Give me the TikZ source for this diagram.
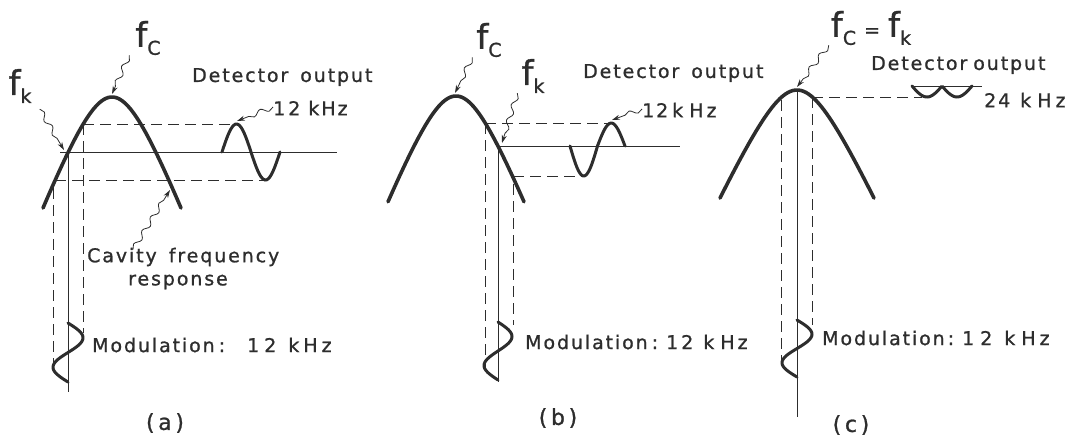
\documentclass[tikz,border=0pt]{standalone}
\usepackage{fontspec}
\setmainfont{DejaVu Sans}[LetterSpace=10, FakeBold=1]
\usetikzlibrary{positioning, arrows.meta, decorations.pathmorphing}

\definecolor{ink}{RGB}{45,45,45}
\newcommand{\fsub}[1]{{\fontsize{34}{34}\selectfont f}\raisebox{-8pt}{#1}}

\tikzset{
  curve/.style={draw=ink, line width=3.6pt, line cap=round},
  wave/.style={draw=ink, line width=3pt, line cap=round},
  guide/.style={draw=ink, line width=0.9pt},
  dashline/.style={draw=ink, line width=0.9pt, dash pattern=on 11pt off 6pt},
  squig/.style={draw=ink, line width=0.8pt, -{Stealth[length=8pt,width=5pt]},
    decorate, decoration={snake, amplitude=2.5pt, segment length=16pt, post length=8pt}},
  lbl/.style={text=ink, font=\fontsize{19}{22}\selectfont, inner sep=0pt, anchor=west},
  fl/.style={text=ink, font=\fontsize{19}{22}\selectfont, inner sep=0pt},
  panel/.style={text=ink, font=\fontsize{22}{26}\selectfont, inner sep=0pt}
}

\begin{document}
\begin{tikzpicture}[x=1pt, y=-1pt]
    \useasboundingbox (0,0) rectangle (1074,440);

    % (a)
    \draw[curve] plot[domain=-69:69, samples=60] ({112+\x},{97+2.62*(sqrt(\x*\x+1225)-35)});
    \coordinate (pka) at (112,94);
    \coordinate (ka) at (64,150);
    \coordinate (cra) at (170,190);
    \coordinate (wpa) at (237,121);
    \draw[guide] (60,152) -- (337,152);
    \draw[guide] (68,152) -- (68,392);
    \draw[dashline] (83,124) -- (236,124);
    \draw[dashline] (55,180) -- (265,180);
    \draw[dashline] (83,124) -- (83,333);
    \draw[dashline] (53,188) -- (53,372);
    \draw[wave] plot[domain=0:360, samples=40] ({222+\x/360*58},{152-28*sin(\x)});
    \draw[wave] plot[domain=0:360, samples=40] ({68+15*sin(\x)},{323+\x/360*59});

    \node[fl] (fca) at (148,38) {\fsub{C}};
    \node[fl] (fka) at (20,86) {\fsub{k}};
    \node[lbl] (deta) at (192,77) {Detector\hspace{12pt}output};
    \node[lbl] (freqa) at (273,108) {1\hspace{3pt}2\hspace{8pt}k\hspace{2pt}H\hspace{2pt}z};
    \node[lbl] (cava) at (87,257) {Cavity\hspace{12pt}frequency};
    \node[lbl] (respa) at (128,282) {response};
    \node[lbl] (moda) at (92,345) {Modulation\hspace{4pt}:\hspace{22pt}1\hspace{5pt}2\hspace{12pt}k\hspace{4pt}H\hspace{4pt}z};
    \node[panel] (capa) at (165,423) {(\,a\,)};

    \draw[squig] ([xshift=-6]fca.south west) -- (pka);
    \draw[squig] ([shift={(8,6)}]fka.south east) -- (ka);
    \draw[squig] ([xshift=46,yshift=-2]cava.north west) -- (cra);
    \draw[squig] ([yshift=1]freqa.west) -- (wpa);

    % (b)
    \draw[curve] plot[domain=-68:68, samples=60] ({456+\x},{96+2.55*(sqrt(\x*\x+1225)-35)});
    \coordinate (pkb) at (455,93);
    \coordinate (kb) at (502,143);
    \coordinate (wpb) at (612,120);
    \draw[guide] (498,146) -- (680,146);
    \draw[guide] (498,146) -- (498,382);
    \draw[dashline] (485,123) -- (611,123);
    \draw[dashline] (513,176) -- (584,176);
    \draw[dashline] (485,123) -- (485,370);
    \draw[dashline] (513,184) -- (513,325);
    \draw[wave] plot[domain=0:180, samples=20] ({570+\x/360*55},{146+30*sin(\x)})
      -- plot[domain=180:360, samples=20] ({570+\x/360*55},{146+23*sin(\x)});
    \draw[wave] plot[domain=0:360, samples=40] ({498+14*sin(\x)},{322+\x/360*58});

    \node[fl] (fcb) at (489,40) {\fsub{C}};
    \node[fl] (fkb) at (533,76) {\fsub{k}};
    \node[lbl] (detb) at (583,73) {Detector\hspace{12pt}output};
    \node[lbl] (freqb) at (642,110) {12\hspace{4pt}k\hspace{6pt}H\hspace{3pt}z};
    \node[lbl] (modb) at (525,342) {Modulation\hspace{4pt}:\hspace{8pt}1\hspace{3pt}2\hspace{10pt}k\hspace{6pt}H\hspace{3pt}z};
    \node[panel] (capb) at (558,418) {(\,b\,)};

    \draw[squig] ([xshift=-4]fcb.south west) -- (pkb);
    \draw[squig] ([xshift=-4]fkb.south west) -- (kb);
    \draw[squig] ([yshift=1]freqb.west) -- (wpb);

    % (c)
    \draw[curve] plot[domain=-77:77, samples=60] ({797+\x},{90+2.18*(sqrt(\x*\x+1225)-35)});
    \coordinate (pkc) at (797,87);
    \draw[guide] (797,90) -- (797,417);
    \draw[dashline] (812,97) -- (922,97);
    \draw[dashline] (812,97) -- (812,325);
    \draw[dashline] (781,100) -- (781,370);
    \draw[guide] (912,86) -- (982,86);
    \draw[wave] plot[domain=0:360, samples=40] ({912+\x/360*60},{86+11*abs(sin(\x))});
    \draw[wave] plot[domain=0:360, samples=40] ({797+15*sin(\x)},{320+\x/360*57});

    \node[fl] (fcc) at (871,28) {\fsub{C}\hspace{8pt}=\hspace{8pt}\fsub{k}};
    \node[lbl] (detc) at (871,65) {Detector\hspace{6pt}output};
    \node[lbl] (freqc) at (984,100) {24\hspace{10pt}k\hspace{6pt}H\hspace{4pt}z};
    \node[lbl] (modc) at (822,338) {Modulation\hspace{3pt}:\hspace{8pt}1\hspace{6pt}2\hspace{12pt}k\hspace{6pt}H\hspace{4pt}z};
    \node[panel] (capc) at (851,425) {(\,c\,)};

    \draw[squig] ([xshift=-2]fcc.south west) -- (pkc);
\end{tikzpicture}
\end{document}
